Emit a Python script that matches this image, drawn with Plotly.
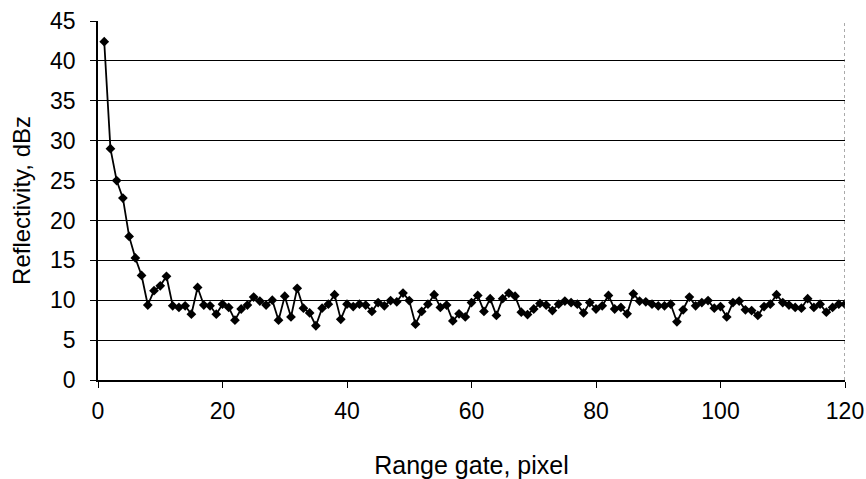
import plotly.graph_objects as go

# Range gate index (pixel) and measured reflectivity (dBz)
range_gate = list(range(1, 121))
reflectivity = [
    42.4, 29.0, 25.0, 22.8, 18.0, 15.3, 13.1, 9.4, 11.2, 11.8,
    13.0, 9.3, 9.1, 9.3, 8.25, 11.6, 9.4, 9.3, 8.25, 9.5,
    9.1, 7.5, 8.9, 9.4, 10.4, 9.9, 9.4, 10.0, 7.5, 10.5,
    7.9, 11.5, 9.0, 8.4, 6.8, 9.0, 9.5, 10.7, 7.6, 9.5,
    9.2, 9.5, 9.4, 8.6, 9.7, 9.3, 9.95, 9.8, 10.9, 9.95,
    7.0, 8.6, 9.5, 10.7, 9.1, 9.4, 7.4, 8.3, 7.9, 9.7,
    10.6, 8.6, 10.2, 8.1, 10.2, 10.9, 10.5, 8.5, 8.2, 8.9,
    9.6, 9.4, 8.7, 9.5, 9.9, 9.7, 9.5, 8.4, 9.7, 8.9,
    9.3, 10.6, 8.9, 9.1, 8.3, 10.8, 9.9, 9.8, 9.5, 9.3,
    9.3, 9.5, 7.3, 8.8, 10.4, 9.3, 9.7, 9.95, 9.0, 9.2,
    7.9, 9.7, 9.9, 8.8, 8.7, 8.1, 9.2, 9.5, 10.7, 9.7,
    9.4, 9.1, 9.0, 10.2, 9.1, 9.5, 8.5, 9.1, 9.5, 9.5,
]

x_ticks = [0, 20, 40, 60, 80, 100, 120]
y_ticks = [0, 5, 10, 15, 20, 25, 30, 35, 40, 45]

font_family = "Liberation Sans, Arial, sans-serif"

fig = go.Figure()
fig.add_trace(go.Scatter(
    x=range_gate,
    y=reflectivity,
    mode="lines+markers",
    line=dict(color="black", width=1.8),
    marker=dict(symbol="diamond", size=7.5, color="black"),
    showlegend=False,
))

# dotted right border of the plot area
fig.add_shape(type="line", xref="x", yref="paper", x0=120, x1=120, y0=0, y1=1,
              line=dict(color="#555555", width=1, dash="dot"))

fig.update_layout(
    width=866, height=479,
    margin=dict(l=98, r=21, t=21, b=99),
    paper_bgcolor="white", plot_bgcolor="white",
    font=dict(family=font_family, size=23, color="black"),
    xaxis=dict(
        range=[0, 120], tickvals=x_ticks, ticktext=[str(v) for v in x_ticks],
        showgrid=False, zeroline=False, automargin=False,
        showline=True, linecolor="black", linewidth=1.5,
        ticks="outside", ticklen=6, tickcolor="black",
        ticklabelstandoff=4,
        title=dict(text="Range gate, pixel", font=dict(size=25), standoff=34),
    ),
    yaxis=dict(
        range=[0, 45], tickvals=y_ticks, ticktext=[str(v) for v in y_ticks],
        showgrid=True, gridcolor="black", gridwidth=1, zeroline=False,
        automargin=False,
        showline=True, linecolor="black", linewidth=1.5,
        ticks="outside", ticklen=6, tickcolor="black",
        ticklabelstandoff=10,
        title=dict(text="Reflectivity, dBz", font=dict(size=24), standoff=13),
    ),
)

fig.write_html("out.html")
